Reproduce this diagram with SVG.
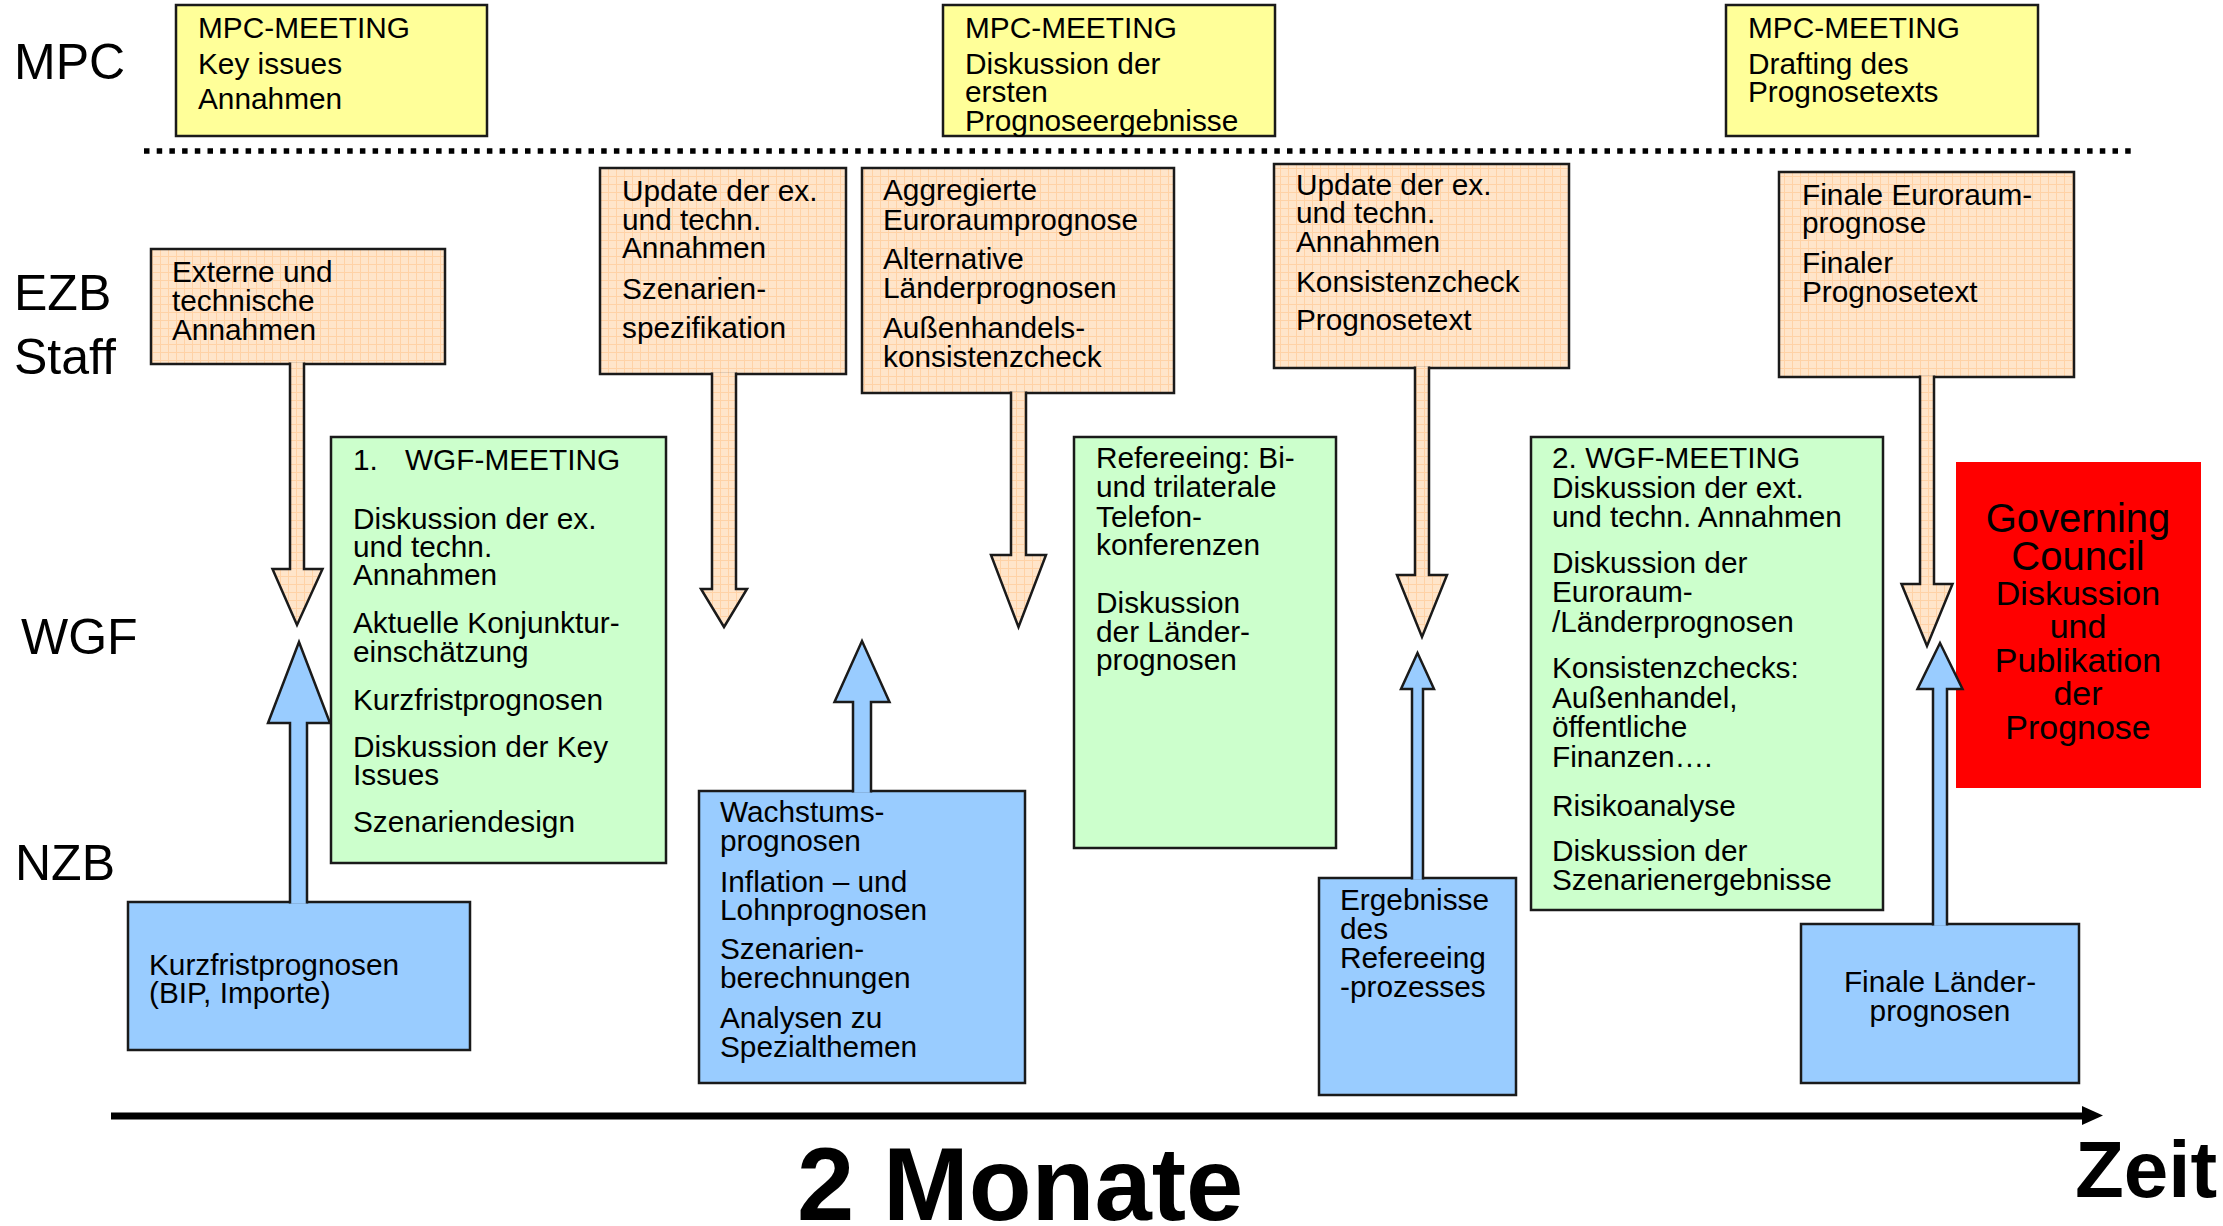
<svg xmlns="http://www.w3.org/2000/svg" width="2223" height="1226" viewBox="0 0 2223 1226">
<style>
text{font-family:"Liberation Sans",Arial,Helvetica,sans-serif;fill:#000}
.t{font-size:29.8px}
.lane{font-size:50px}
.big{font-weight:bold}
.box{stroke:#1a1a1a;stroke-width:2.5}
.mpc{fill:#FFFF99}
.ezb{fill:url(#grid)}
.wgf{fill:#CCFFCC}
.nzb{fill:#99CCFF}
.gc{fill:#FF0000}
.arr{stroke:#1a1a1a;stroke-width:2.5;stroke-linejoin:miter}
.gct{font-size:34px;text-anchor:middle}
</style>
<defs>
<pattern id="grid" width="8" height="8" patternUnits="userSpaceOnUse">
<rect width="8" height="8" fill="#FFE5CA"/>
<path d="M0 0.5H8M0.5 0V8" stroke="#FFD2A6" stroke-width="1"/>
</pattern>
</defs>
<rect width="2223" height="1226" fill="#fff"/>

<g id="lanes">
<text class="lane" x="14" y="79">MPC</text>
<text class="lane" x="14" y="310">EZB</text>
<text class="lane" x="14" y="374">Staff</text>
<text class="lane" x="21" y="654">WGF</text>
<text class="lane" x="15" y="880">NZB</text>
</g>

<line id="separator" x1="144" y1="151" x2="2133" y2="151" stroke="#000" stroke-width="5.5" stroke-dasharray="5.5 7.2"/>

<g id="mpc1">
<rect class="box mpc" x="176" y="5" width="311" height="131"/>
<text class="t" x="198" y="38">MPC-MEETING</text>
<text class="t" x="198" y="74">Key issues</text>
<text class="t" x="198" y="109">Annahmen</text>
</g>
<g id="mpc2">
<rect class="box mpc" x="943" y="5" width="332" height="131"/>
<text class="t" x="965" y="38">MPC-MEETING</text>
<text class="t" x="965" y="74">Diskussion der</text>
<text class="t" x="965" y="102">ersten</text>
<text class="t" x="965" y="131">Prognoseergebnisse</text>
</g>
<g id="mpc3">
<rect class="box mpc" x="1726" y="5" width="312" height="131"/>
<text class="t" x="1748" y="38">MPC-MEETING</text>
<text class="t" x="1748" y="74">Drafting des</text>
<text class="t" x="1748" y="102">Prognosetexts</text>
</g>

<g id="ezb1">
<rect class="box ezb" x="151" y="249" width="294" height="115"/>
<text class="t" x="172" y="282">Externe und</text>
<text class="t" x="172" y="311">technische</text>
<text class="t" x="172" y="340">Annahmen</text>
</g>
<g id="ezb2">
<rect class="box ezb" x="600" y="168" width="246" height="206"/>
<text class="t" x="622" y="201">Update der ex.</text>
<text class="t" x="622" y="230">und techn.</text>
<text class="t" x="622" y="258">Annahmen</text>
<text class="t" x="622" y="299">Szenarien-</text>
<text class="t" x="622" y="338">spezifikation</text>
</g>
<g id="ezb3">
<rect class="box ezb" x="862" y="168" width="312" height="225"/>
<text class="t" x="883" y="200">Aggregierte</text>
<text class="t" x="883" y="230">Euroraumprognose</text>
<text class="t" x="883" y="269">Alternative</text>
<text class="t" x="883" y="298">Länderprognosen</text>
<text class="t" x="883" y="338">Außenhandels-</text>
<text class="t" x="883" y="367">konsistenzcheck</text>
</g>
<g id="ezb4">
<rect class="box ezb" x="1274" y="164" width="295" height="204"/>
<text class="t" x="1296" y="195">Update der ex.</text>
<text class="t" x="1296" y="223">und techn.</text>
<text class="t" x="1296" y="252">Annahmen</text>
<text class="t" x="1296" y="292">Konsistenzcheck</text>
<text class="t" x="1296" y="330">Prognosetext</text>
</g>
<g id="ezb5">
<rect class="box ezb" x="1779" y="172" width="295" height="205"/>
<text class="t" x="1802" y="205">Finale Euroraum-</text>
<text class="t" x="1802" y="233">prognose</text>
<text class="t" x="1802" y="273">Finaler</text>
<text class="t" x="1802" y="302">Prognosetext</text>
</g>

<g id="wgf1">
<rect class="box wgf" x="331" y="437" width="335" height="426"/>
<text class="t" x="353" y="470">1.</text>
<text class="t" x="405" y="470">WGF-MEETING</text>
<text class="t" x="353" y="529">Diskussion der ex.</text>
<text class="t" x="353" y="557">und techn.</text>
<text class="t" x="353" y="585">Annahmen</text>
<text class="t" x="353" y="633">Aktuelle Konjunktur-</text>
<text class="t" x="353" y="662">einschätzung</text>
<text class="t" x="353" y="710">Kurzfristprognosen</text>
<text class="t" x="353" y="757">Diskussion der Key</text>
<text class="t" x="353" y="785">Issues</text>
<text class="t" x="353" y="832">Szenariendesign</text>
</g>
<g id="wgf2">
<rect class="box wgf" x="1074" y="437" width="262" height="411"/>
<text class="t" x="1096" y="468">Refereeing: Bi-</text>
<text class="t" x="1096" y="497">und trilaterale</text>
<text class="t" x="1096" y="527">Telefon-</text>
<text class="t" x="1096" y="555">konferenzen</text>
<text class="t" x="1096" y="613">Diskussion</text>
<text class="t" x="1096" y="642">der Länder-</text>
<text class="t" x="1096" y="670">prognosen</text>
</g>
<g id="wgf3">
<rect class="box wgf" x="1531" y="437" width="352" height="473"/>
<text class="t" x="1552" y="468">2. WGF-MEETING</text>
<text class="t" x="1552" y="498">Diskussion der ext.</text>
<text class="t" x="1552" y="527">und techn. Annahmen</text>
<text class="t" x="1552" y="573">Diskussion der</text>
<text class="t" x="1552" y="602">Euroraum-</text>
<text class="t" x="1552" y="632">/Länderprognosen</text>
<text class="t" x="1552" y="678">Konsistenzchecks:</text>
<text class="t" x="1552" y="708">Außenhandel,</text>
<text class="t" x="1552" y="737">öffentliche</text>
<text class="t" x="1552" y="767">Finanzen….</text>
<text class="t" x="1552" y="816">Risikoanalyse</text>
<text class="t" x="1552" y="861">Diskussion der</text>
<text class="t" x="1552" y="890">Szenarienergebnisse</text>
</g>

<g id="gc">
<rect class="gc" x="1956" y="462" width="245" height="326"/>
<text class="gct" x="2078" y="532" style="font-size:40px">Governing</text>
<text class="gct" x="2078" y="570" style="font-size:40px">Council</text>
<text class="gct" x="2078" y="605">Diskussion</text>
<text class="gct" x="2078" y="638">und</text>
<text class="gct" x="2078" y="672">Publikation</text>
<text class="gct" x="2078" y="705">der</text>
<text class="gct" x="2078" y="739">Prognose</text>
</g>

<g id="nzb1">
<rect class="box nzb" x="128" y="902" width="342" height="148"/>
<text class="t" x="149" y="975">Kurzfristprognosen</text>
<text class="t" x="149" y="1003">(BIP, Importe)</text>
</g>
<g id="nzb2">
<rect class="box nzb" x="699" y="791" width="326" height="292"/>
<text class="t" x="720" y="822">Wachstums-</text>
<text class="t" x="720" y="851">prognosen</text>
<text class="t" x="720" y="892">Inflation – und</text>
<text class="t" x="720" y="920">Lohnprognosen</text>
<text class="t" x="720" y="959">Szenarien-</text>
<text class="t" x="720" y="988">berechnungen</text>
<text class="t" x="720" y="1028">Analysen zu</text>
<text class="t" x="720" y="1057">Spezialthemen</text>
</g>
<g id="nzb3">
<rect class="box nzb" x="1319" y="878" width="197" height="217"/>
<text class="t" x="1340" y="910">Ergebnisse</text>
<text class="t" x="1340" y="939">des</text>
<text class="t" x="1340" y="968">Refereeing</text>
<text class="t" x="1340" y="997">-prozesses</text>
</g>
<g id="nzb4">
<rect class="box nzb" x="1801" y="924" width="278" height="159"/>
<text class="t" x="1940" y="992" text-anchor="middle">Finale Länder-</text>
<text class="t" x="1940" y="1021" text-anchor="middle">prognosen</text>
</g>

<g id="connectors">
<path class="arr ezb" d="M290 362.5V569H272.5L297 625L322.5 569H304V362.5"/>
<path class="arr ezb" d="M712 372.5V589H701L724 627L747 589H736V372.5"/>
<path class="arr ezb" d="M1011 391.5V555H991L1018.5 627L1046 555H1026V391.5"/>
<path class="arr ezb" d="M1415 366.5V575H1397L1422 637L1447 575H1429V366.5"/>
<path class="arr ezb" d="M1920 375.5V584H1901.5L1927 646L1952.5 584H1934V375.5"/>
<path class="arr nzb" d="M290 903.5V723H268L299 642L330 723H307V903.5"/>
<path class="arr nzb" d="M853 792.5V702H834.5L862 641L889.5 702H871V792.5"/>
<path class="arr nzb" d="M1412 879.5V689H1401L1417.5 653L1434 689H1423V879.5"/>
<path class="arr nzb" d="M1933 925.5V689H1917.5L1940 643L1962.5 689H1947V925.5"/>
</g>

<g id="axis">
<line x1="111" y1="1116" x2="2086" y2="1116" stroke="#000" stroke-width="7"/>
<polygon points="2082,1106 2103,1115.5 2082,1125" fill="#000"/>
<text class="big" x="797" y="1220" style="font-size:103px">2 Monate</text>
<text class="big" x="2075" y="1197" style="font-size:80px">Zeit</text>
</g>
</svg>
